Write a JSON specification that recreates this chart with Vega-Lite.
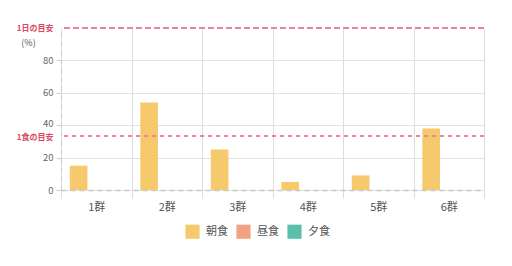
{
  "$schema": "https://vega.github.io/schema/vega-lite/v6.json",
  "width": 423,
  "height": 162,
  "autosize": {"type": "none"},
  "padding": {"left": 61, "top": 28, "right": 28, "bottom": 76},
  "background": "#ffffff",
  "config": {
    "font": "Noto Sans CJK JP",
    "view": {"stroke": null}
  },
  "data": {
    "values": [
      {"group": "1群", "meal": "朝食", "value": 15},
      {"group": "1群", "meal": "昼食", "value": 0},
      {"group": "1群", "meal": "夕食", "value": 0},
      {"group": "2群", "meal": "朝食", "value": 54},
      {"group": "2群", "meal": "昼食", "value": 0},
      {"group": "2群", "meal": "夕食", "value": 0},
      {"group": "3群", "meal": "朝食", "value": 25},
      {"group": "3群", "meal": "昼食", "value": 0},
      {"group": "3群", "meal": "夕食", "value": 0},
      {"group": "4群", "meal": "朝食", "value": 5},
      {"group": "4群", "meal": "昼食", "value": 0},
      {"group": "4群", "meal": "夕食", "value": 0},
      {"group": "5群", "meal": "朝食", "value": 9},
      {"group": "5群", "meal": "昼食", "value": 0},
      {"group": "5群", "meal": "夕食", "value": 0},
      {"group": "6群", "meal": "朝食", "value": 38},
      {"group": "6群", "meal": "昼食", "value": 0},
      {"group": "6群", "meal": "夕食", "value": 0}
    ]
  },
  "layer": [
    {
      "mark": {"type": "bar"},
      "encoding": {
        "x": {
          "field": "group",
          "type": "nominal",
          "sort": null,
          "scale": {"paddingInner": 0, "paddingOuter": 0},
          "axis": {
            "title": null,
            "labelAngle": 0,
            "labelFontSize": 11,
            "labelColor": "#555555",
            "labelPadding": 3,
            "tickBand": "extent",
            "tickSize": 8,
            "tickColor": "#dddddd",
            "grid": true,
            "gridColor": "#dddddd",
            "domainColor": "#c8c8c8",
            "domainDash": [5, 4],
            "domainWidth": 1.5
          }
        },
        "xOffset": {
          "field": "meal",
          "type": "nominal",
          "sort": ["朝食", "昼食", "夕食"],
          "scale": {"paddingInner": 0, "paddingOuter": 0.5}
        },
        "y": {
          "field": "value",
          "type": "quantitative",
          "scale": {"domain": [0, 100], "nice": false},
          "axis": {
            "values": [0, 20, 33.3, 40, 60, 80, 100],
            "tickCount": 50,
            "labelOverlap": false,
            "labelExpr": "datum.value == 100 ? '1日の目安' : (datum.value == 33.3 ? '1食の目安' : datum.label)",
            "labelColor": {"condition": {"test": "datum.value == 100 || datum.value == 33.3", "value": "#d9485f"}, "value": "#666666"},
            "labelFontWeight": {"condition": {"test": "datum.value == 100 || datum.value == 33.3", "value": "bold"}, "value": "normal"},
            "labelFontSize": {"condition": {"test": "datum.value == 100 || datum.value == 33.3", "value": 8}, "value": 9.5},
            "labelOffset": {"condition": [{"test": "datum.value == 40", "value": -2}, {"test": "datum.value == 33.3", "value": 1}], "value": 0},
            "labelPadding": 3,
            "tickSize": 5,
            "tickColor": {"condition": {"test": "datum.value == 100 || datum.value == 33.3", "value": "transparent"}, "value": "#cccccc"},
            "grid": true,
            "gridColor": {"condition": {"test": "datum.value == 100 || datum.value == 33.3", "value": "transparent"}, "value": "#e2e2e2"},
            "domainColor": "#c8c8c8",
            "domainDash": [5, 4],
            "title": "(%)",
            "titleAngle": 0,
            "titleX": -33,
            "titleY": 14,
            "titleAlign": "center",
            "titleBaseline": "middle",
            "titleFontSize": 9,
            "titleFontWeight": "normal",
            "titleColor": "#555555"
          }
        },
        "color": {
          "field": "meal",
          "type": "nominal",
          "sort": ["朝食", "昼食", "夕食"],
          "scale": {"domain": ["朝食", "昼食", "夕食"], "range": ["#f5c96c", "#f0a282", "#5cbfa9"]},
          "legend": {
            "orient": "none",
            "legendX": 124,
            "legendY": 196,
            "direction": "horizontal",
            "title": null,
            "symbolType": "square",
            "symbolSize": 200,
            "symbolStrokeWidth": 0,
            "symbolOpacity": 1,
            "labelFontSize": 11,
            "labelColor": "#555555",
            "columnPadding": 8,
            "labelOffset": 6
          }
        }
      }
    },
    {
      "mark": {"type": "rule", "color": "#e88795", "strokeDash": [6, 3], "strokeWidth": 1.5},
      "encoding": {"y": {"datum": 100}}
    },
    {
      "mark": {"type": "rule", "color": "#e88795", "strokeDash": [4, 4], "strokeWidth": 1},
      "encoding": {"y": {"datum": 33.3}}
    }
  ]
}
